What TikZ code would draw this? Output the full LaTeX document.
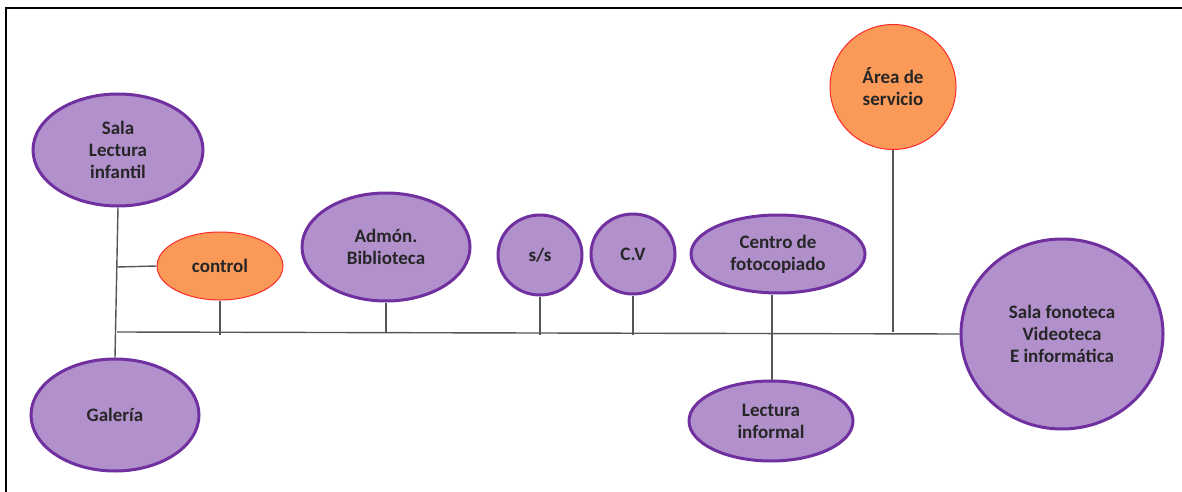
\documentclass[tikz,border=0pt]{standalone}
\usepackage{fontspec}
\setmainfont{Carlito}
\usetikzlibrary{shapes.geometric}
\definecolor{pfill}{HTML}{B190CC}
\definecolor{pline}{HTML}{7030A0}
\definecolor{ofill}{HTML}{FB9A58}
\definecolor{oline}{HTML}{FF2A2A}
\definecolor{conn}{HTML}{555555}
\tikzset{
  x=1pt, y=-1pt,
  room/.style={ellipse, draw=pline, fill=pfill, line width=3pt, inner sep=0pt,
    align=center, font=\fontsize{19}{22}\selectfont\bfseries, text=black!85},
  orange/.style={ellipse, draw=oline, fill=ofill, line width=1pt, inner sep=0pt,
    align=center, font=\fontsize{19}{22}\selectfont\bfseries, text=black!85},
  wire/.style={draw=conn, line width=1.4pt}
}
\begin{document}
\begin{tikzpicture}
\useasboundingbox (0,0) rectangle (1182,492);
\draw[line width=2pt, black] (6,492) -- (6,8) -- (1182,8);

\node[room, minimum width=170, minimum height=112] (sala) at (118,150) {Sala\\Lectura\\infantil};
\node[orange, minimum width=126, minimum height=68] (control) at (220,266) {control};
\node[room, minimum width=168, minimum height=112] (gal) at (115,415) {Galería};
\node[room, minimum width=168, minimum height=108] (adm) at (386,247) {Admón.\\Biblioteca};
\node[room, minimum width=84, minimum height=80] (ss) at (540,255) {s/s};
\node[room, minimum width=84, minimum height=80] (cv) at (633,254) {C.V};
\node[room, minimum width=174, minimum height=78] (foto) at (778,254) {Centro de\\fotocopiado};
\node[room, minimum width=164, minimum height=80] (linf) at (771,421) {Lectura\\informal};
\node[orange, minimum width=126, minimum height=125] (area) at (893,87) {Área de\\servicio};
\node[room, minimum width=202, minimum height=190] (fono) at (1062,334) {Sala fonoteca\\Videoteca\\E informática};

\coordinate (hl) at (117,332);
\coordinate (jc) at (117,267);
\coordinate (lowline) at (0,335);
\coordinate (fl) at (772,0);

\draw[wire] (sala.south) -- (gal.north);
\draw[wire] (jc) -- (control.west);
\draw[wire] (hl) -- (fono.west);
\draw[wire] (control.south) -- (control.south |- lowline);
\draw[wire] (adm.south) -- (adm.south |- hl);
\draw[wire] (ss.south) -- (ss.south |- lowline);
\draw[wire] (cv.south) -- (cv.south |- lowline);
\draw[wire] (fl |- foto.south) -- (fl |- linf.north);
\draw[wire] (area.south) -- (area.south |- hl);
\end{tikzpicture}
\end{document}
